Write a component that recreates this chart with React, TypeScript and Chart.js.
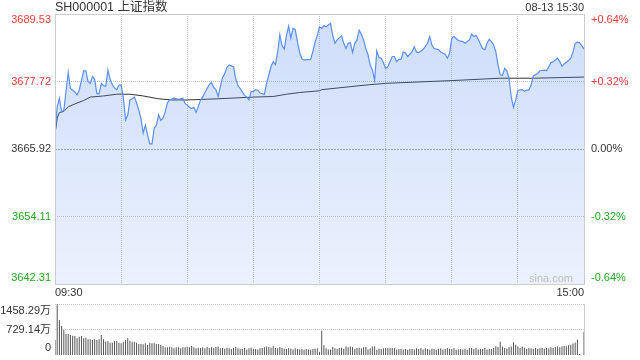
import React, { useEffect, useRef } from "react";
import { Chart, registerables } from "chart.js";

Chart.register(...registerables);

const FONT = '"Liberation Sans", Arial, "Noto Sans CJK SC", sans-serif';
const RED = "#f03c3c";
const GREEN = "#22a822";
const TEXT = "#333333";

const titleText = "SH000001 上证指数";
const dateText = "08-13 15:30";
const watermark = "sina.com";
const prevClose = 3665.92;
const priceTicks = [3642.31, 3654.11, 3665.92, 3677.72, 3689.53];
const pctTicks = ["-0.64%", "-0.32%", "0.00%", "+0.32%", "+0.64%"];
const timeLabels = ["09:30", "15:00"];
const gridMinutes = [30, 60, 90, 120, 150, 180, 210];
const volumeTicks = [0, 729.14, 1458.29];
const volumeTickLabels = ["0", "729.14万", "1458.29万"];

const priceMinutes = [
  0, 1, 2, 3, 4, 6, 7, 9, 10, 11, 13, 14, 15, 16, 17, 18, 19, 20, 21, 22, 23, 24, 25, 26, 27, 28, 29, 30,
  31, 32, 33, 34, 35, 36, 37, 38, 39, 40, 41, 42, 43, 44, 45, 46, 47, 48, 49, 50, 51, 52, 54, 56, 58, 59, 60,
  61, 62, 63, 64, 65, 66, 67, 68, 70, 71, 72, 73, 74, 75, 76, 77, 78, 79, 81, 82, 83, 84, 85, 86, 87, 88, 89,
  90, 91, 92, 93, 94, 95, 96, 97, 98, 99, 100, 101, 102, 103, 104, 105, 106, 107, 108, 109, 110, 111, 112,
  113, 116, 117, 118, 119, 120,
  121, 122, 123, 124, 125, 126, 127, 128, 129, 130, 131, 132, 133, 134, 135, 136, 137, 138, 139, 140, 141,
  142, 143, 144, 145, 146, 147, 148, 149, 150, 151, 153, 154, 155, 156, 157, 158, 159, 160, 162, 163, 164,
  165, 167, 169, 170, 171, 172, 174, 175, 177, 178, 179, 180, 181, 183, 185, 186, 188, 189, 190, 191, 192,
  194, 195, 196, 197, 198, 199, 200, 201, 202, 203, 204, 205, 206, 207, 208, 209, 210, 212, 213, 214, 215,
  216, 217, 219, 220, 222, 223, 225, 226, 228, 229, 230, 231, 233, 234, 235, 236, 237, 238, 239, 240,
];
const priceValues = [
  3668.5, 3673.3, 3674.8, 3672.4, 3672.7, 3679.3, 3676.5, 3675.9, 3675.4, 3676.2, 3679.6, 3679.6, 3677.7,
  3677.4, 3678.6, 3678.1, 3675.6, 3675.6, 3677.4, 3677.0, 3676.9, 3679.7, 3678.1, 3677.2, 3676.6, 3676.3,
  3677.1, 3677.1, 3675.0, 3671.0, 3671.8, 3674.5, 3674.7, 3675.0, 3674.0, 3672.7, 3671.3, 3668.7, 3670.1,
  3668.4, 3666.8, 3666.8, 3669.5, 3670.1, 3671.9, 3670.9, 3671.3, 3672.4, 3674.0, 3674.5, 3674.8, 3674.6,
  3674.8, 3673.9, 3673.6,
  3673.2, 3673.0, 3673.2, 3672.3, 3673.3, 3674.5, 3675.0, 3675.8, 3677.2, 3677.6, 3676.7, 3676.3, 3675.1,
  3676.8, 3678.4, 3679.1, 3680.2, 3680.6, 3680.3, 3678.2, 3677.0, 3676.5, 3675.9, 3675.3, 3675.0, 3674.5,
  3676.0, 3676.0, 3676.3, 3676.2, 3675.7, 3675.6, 3675.5, 3677.4, 3678.9, 3680.3, 3681.2, 3680.7, 3682.8,
  3685.9, 3684.0, 3683.4, 3685.8, 3687.4, 3685.3, 3687.0, 3686.8, 3684.6, 3682.8, 3681.7, 3681.5, 3681.6,
  3683.0, 3684.6, 3685.8, 3687.3,
  3687.0, 3687.5, 3687.3, 3687.6, 3687.9, 3685.8, 3684.4, 3685.0, 3685.4, 3685.7, 3684.4, 3683.5, 3684.4,
  3684.5, 3682.8, 3684.4, 3685.0, 3686.7, 3686.0, 3685.0, 3683.5, 3682.4, 3680.6, 3679.7, 3677.9, 3683.1,
  3681.9, 3681.8, 3681.0, 3680.0, 3680.3, 3682.1, 3682.1, 3681.2, 3681.6, 3681.6, 3682.9, 3682.7, 3682.1,
  3682.9, 3683.8, 3682.9, 3682.8, 3683.3, 3684.4, 3685.6, 3684.1, 3683.5, 3683.3, 3682.9, 3682.5, 3681.8,
  3682.6, 3685.3, 3685.6, 3684.9, 3684.7, 3684.4, 3685.0, 3686.0, 3685.6, 3685.8, 3685.1, 3683.5, 3683.3,
  3684.4, 3685.1, 3684.7, 3684.1, 3682.9, 3680.6, 3678.9, 3678.8, 3680.0, 3679.6, 3678.3, 3675.0, 3673.2,
  3674.5, 3676.2, 3676.3, 3676.0, 3676.2, 3676.2, 3677.1, 3678.7, 3679.1, 3679.6, 3679.7, 3679.6, 3681.0,
  3681.2, 3681.8, 3681.2, 3680.4, 3680.8, 3681.4, 3681.8, 3682.9, 3684.4, 3684.6, 3684.5, 3684.0, 3683.4,
];

const avgMinutes = [0, 1, 2, 4, 6, 9, 13, 16, 22, 28, 34, 40, 47, 53, 60, 74, 90, 99, 105, 111, 120, 121, 141, 150, 181, 202, 217, 240];
const avgValues = [
  3668.5, 3671.3, 3672.3, 3672.5, 3673.3, 3673.8, 3674.4, 3675.0, 3675.2, 3675.5, 3675.5, 3675.2, 3674.7,
  3674.5, 3674.5, 3674.7, 3675.0, 3675.1, 3675.5, 3675.8, 3676.1, 3676.3, 3677.1, 3677.4, 3677.9, 3678.3,
  3678.3, 3678.5,
];

const volumeValues = [
  429, 1450, 1000, 830, 715, 600, 600, 572, 553, 543,
  477, 524, 543, 477, 496, 448, 448, 429, 448, 429,
  448, 572, 448, 381, 400, 353, 353, 400, 400, 353,
  334, 381, 429, 477, 410, 381, 381, 353, 315, 315,
  305, 334, 286, 353, 334, 334, 315, 315, 286, 257,
  219, 219, 238, 219, 191, 219, 219, 191, 219, 219,
  238, 219, 257, 219, 191, 210, 200, 219, 191, 230,
  200, 219, 191, 230, 240, 191, 200, 180, 210, 190,
  170, 200, 230, 190, 180, 170, 200, 160, 190, 210,
  180, 170, 160, 190, 200, 220, 240, 230, 210, 250,
  200, 190, 230, 210, 180, 170, 200, 180, 160, 190,
  170, 160, 170, 150, 170, 160, 150, 170, 180, 190,
  90, 695, 280, 190, 160, 160, 230, 190, 170, 200,
  210, 180, 240, 220, 240, 230, 170, 200, 210, 190,
  220, 230, 160, 190, 240, 250, 150, 180, 170, 190,
  200, 200, 190, 200, 190, 150, 170, 180, 160, 170,
  150, 170, 170, 160, 190, 170, 200, 160, 190, 170,
  160, 180, 170, 150, 180, 190, 160, 170, 200, 180,
  170, 190, 150, 160, 170, 160, 180, 150, 190, 200,
  170, 210, 160, 180, 170, 200, 160, 180, 170, 200,
  250, 230, 380, 240, 200, 180, 220, 240, 366, 290,
  250, 200, 240, 210, 180, 200, 190, 180, 200, 170,
  190, 200, 180, 200, 190, 220, 200, 230, 240, 220,
  250, 260, 250, 280, 290, 330, 360, 440, 30, 0,
  666,
];

const crisp = (v: number) => Math.round(v - 0.5) + 0.5;

function hLine(ctx: CanvasRenderingContext2D, x1: number, x2: number, y: number, color: string, dash: number[]) {
  ctx.beginPath();
  ctx.setLineDash(dash);
  ctx.strokeStyle = color;
  ctx.lineWidth = 1;
  ctx.moveTo(x1, crisp(y));
  ctx.lineTo(x2, crisp(y));
  ctx.stroke();
}
function vLine(ctx: CanvasRenderingContext2D, x: number, y1: number, y2: number, color: string, dash: number[]) {
  ctx.beginPath();
  ctx.setLineDash(dash);
  ctx.strokeStyle = color;
  ctx.lineWidth = 1;
  ctx.moveTo(crisp(x), y1);
  ctx.lineTo(crisp(x), y2);
  ctx.stroke();
}

const mainGrid = {
  id: "mainGrid",
  beforeDatasetsDraw(chart: any) {
    const { ctx, chartArea: a, scales } = chart;
    const x = scales.x, y = scales.y;
    ctx.save();
    gridMinutes.forEach((m) => vLine(ctx, x.getPixelForValue(m), a.top, a.bottom, "#c4c4c4", [1, 1]));
    priceTicks.forEach((v) => {
      if (v === priceTicks[0] || v === priceTicks[priceTicks.length - 1]) return;
      if (v === prevClose) hLine(ctx, a.left, a.right, y.getPixelForValue(v), "#a8a8a8", [2, 1]);
      else hLine(ctx, a.left, a.right, y.getPixelForValue(v), "#c4c4c4", [1, 1]);
    });
    ctx.restore();
  },
  afterDatasetsDraw(chart: any) {
    const { ctx, chartArea: a } = chart;
    ctx.save();
    ctx.setLineDash([]);
    ctx.strokeStyle = "#cccccc";
    ctx.lineWidth = 1;
    ctx.strokeRect(crisp(a.left), crisp(a.top), Math.round(a.right - a.left), Math.round(a.bottom - a.top));
    ctx.restore();
  },
};

const mainText = {
  id: "mainText",
  afterDraw(chart: any) {
    const { ctx, chartArea: a, scales } = chart;
    const x = scales.x, y = scales.y;
    ctx.save();
    ctx.textBaseline = "middle";
    ctx.fillStyle = TEXT;
    ctx.font = "12.5px " + FONT;
    ctx.textAlign = "left";
    ctx.fillText(titleText, a.left, 8);
    ctx.font = "11px " + FONT;
    ctx.textAlign = "right";
    ctx.fillText(dateText, a.right, 8);
    priceTicks.forEach((v, i) => {
      let py = y.getPixelForValue(v);
      if (i === priceTicks.length - 1) py += 6;
      if (i === 0) py -= 6.5;
      ctx.fillStyle = v > prevClose ? RED : v < prevClose ? GREEN : TEXT;
      ctx.textAlign = "right";
      ctx.fillText(v.toFixed(2), a.left - 4, py);
      ctx.textAlign = "left";
      ctx.fillText(pctTicks[i], a.right + 7, py);
    });
    ctx.fillStyle = TEXT;
    ctx.textAlign = "left";
    ctx.fillText(timeLabels[0], x.getPixelForValue(0), a.bottom + 9);
    ctx.textAlign = "right";
    ctx.fillText(timeLabels[1], x.getPixelForValue(240), a.bottom + 9);
    ctx.fillStyle = "#c0c0c0";
    ctx.fillText(watermark, a.right - 11, a.bottom - 5);
    ctx.restore();
  },
};

const volGrid = {
  id: "volGrid",
  beforeDatasetsDraw(chart: any) {
    const { ctx, chartArea: a, scales } = chart;
    const y = scales.y;
    ctx.save();
    hLine(ctx, a.left, a.right, y.getPixelForValue(volumeTicks[2]), "#c4c4c4", [1, 1]);
    hLine(ctx, a.left, a.right, y.getPixelForValue(volumeTicks[1]), "#c4c4c4", [1, 1]);
    vLine(ctx, a.right, a.top, a.bottom, "#cccccc", []);
    ctx.restore();
  },
};

const volText = {
  id: "volText",
  afterDraw(chart: any) {
    const { ctx, chartArea: a, scales } = chart;
    const y = scales.y;
    ctx.save();
    ctx.textBaseline = "middle";
    ctx.fillStyle = TEXT;
    ctx.font = "11px " + FONT;
    ctx.textAlign = "right";
    volumeTicks.forEach((v, i) => {
      let py = y.getPixelForValue(v);
      if (i === 0) py -= 7;
      if (i === volumeTicks.length - 1) py += 7;
      ctx.fillText(volumeTickLabels[i], a.left - 4, py);
    });
    ctx.restore();
  },
};

export default function App() {
  const mainRef = useRef<HTMLCanvasElement>(null);
  const volRef = useRef<HTMLCanvasElement>(null);

  useEffect(() => {
    const main = new Chart(mainRef.current as HTMLCanvasElement, {
      type: "line",
      data: {
        datasets: [
          {
            label: "上证指数",
            data: priceMinutes.map((m, k) => ({ x: m, y: priceValues[k] })),
            borderColor: "#5b8ff0",
            borderWidth: 1.2,
            pointRadius: 0,
            tension: 0,
            fill: "start",
            backgroundColor: (c: any) => {
              const area = c.chart.chartArea;
              if (!area) return "rgba(91,143,240,0.2)";
              const g = c.chart.ctx.createLinearGradient(0, area.top, 0, area.bottom);
              g.addColorStop(0, "rgba(91,143,240,0.30)");
              g.addColorStop(1, "rgba(91,143,240,0.12)");
              return g;
            },
          },
          {
            label: "均价",
            data: avgMinutes.map((m, k) => ({ x: m, y: avgValues[k] })),
            borderColor: "#333333",
            borderWidth: 1,
            pointRadius: 0,
            tension: 0,
            fill: false,
          },
        ],
      },
      options: {
        responsive: false,
        animation: false,
        events: [],
        layout: { padding: { left: 55, right: 56, top: 14, bottom: 16 } },
        scales: {
          x: { type: "linear", display: false, min: 0, max: 240 },
          y: { type: "linear", display: false, min: 3642.31, max: 3689.53 },
        },
        plugins: { legend: { display: false }, tooltip: { enabled: false } },
      },
      plugins: [mainGrid, mainText],
    } as any);

    const vol = new Chart(volRef.current as HTMLCanvasElement, {
      type: "bar",
      data: {
        datasets: [
          {
            label: "成交量",
            data: volumeValues.map((v, i) => ({ x: i, y: v })),
            backgroundColor: "#555555",
            borderWidth: 0,
            barThickness: 1,
            inflateAmount: 0,
          },
        ],
      },
      options: {
        responsive: false,
        animation: false,
        events: [],
        layout: { padding: { left: 55, right: 56, top: 4, bottom: 5 } },
        scales: {
          x: { type: "linear", display: false, min: 0, max: 240, offset: false },
          y: { type: "linear", display: false, min: 0, max: 1458.29 },
        },
        plugins: { legend: { display: false }, tooltip: { enabled: false } },
      },
      plugins: [volGrid, volText],
    } as any);

    return () => {
      main.destroy();
      vol.destroy();
    };
  }, []);

  return (
    <div style={{ position: "fixed", left: 0, top: 0, width: 640, height: 360, background: "#ffffff" }}>
      <canvas ref={mainRef} width={640} height={300} style={{ position: "absolute", left: 0, top: 0, width: 640, height: 300 }} />
      <canvas ref={volRef} width={640} height={60} style={{ position: "absolute", left: 0, top: 300, width: 640, height: 60 }} />
    </div>
  );
}
